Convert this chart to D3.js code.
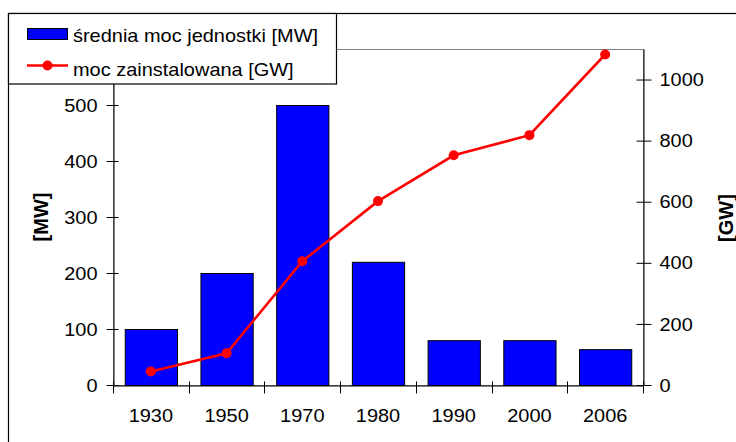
<!DOCTYPE html>
<meta charset="utf-8">
<html lang="pl">
  <head>
    <script src="https://cdn.jsdelivr.net/npm/d3@7"></script>
    <style>
      body { margin: 0; background: #fff; }
      text { font-family: "Liberation Sans", Arial, sans-serif; fill: #000; }
    </style>
  </head>
  <body>
    <svg id="chart" width="736" height="442"></svg>
  <script>
    // dane
    const years = ['1930', '1950', '1970', '1980', '1990', '2000', '2006']
    const unitPower = [100, 200, 500, 220, 80, 80, 64]           // [MW]
    const installed = [44, 104, 405, 602, 752, 818, 1082]        // [GW]
    const leftTicks = [0, 100, 200, 300, 400, 500]
    const rightTicks = [0, 200, 400, 600, 800, 1000]

    const svg = d3.select('#chart')
    const plot = {left: 113, right: 643, top: 49, bottom: 385}
    const fs = '19px'

    // ramka całego wykresu
    svg.append('rect')
      .attr('x', 8.5).attr('y', 13.5).attr('width', 900).attr('height', 600)
      .attr('fill', 'none').attr('stroke', '#000').attr('stroke-width', 1.2)

    const x = d3.scaleBand().domain(years)
      .range([plot.left, plot.right]).paddingInner(0.31).paddingOuter(0.155)
    const yL = d3.scaleLinear().domain([0, 600]).range([plot.bottom, plot.top])
    const yR = d3.scaleLinear().domain([0, 1100]).range([plot.bottom, plot.top])

    // obszar kreślenia - szara ramka
    svg.append('rect')
      .attr('x', plot.left + 0.5).attr('y', plot.top + 0.5)
      .attr('width', plot.right - plot.left).attr('height', plot.bottom - plot.top)
      .attr('fill', 'none').attr('stroke', '#808080').attr('stroke-width', 1)

    // słupki
    svg.append('g').selectAll('rect').data(unitPower).enter()
      .append('rect')
      .attr('x', (d, i) => x(years[i]) + 0.5)
      .attr('y', d => yL(d) + 0.5)
      .attr('width', x.bandwidth())
      .attr('height', d => yL(0) - yL(d))
      .attr('fill', '#0000ff').attr('stroke', '#000').attr('stroke-width', 1)

    // osie
    const gl = svg.append('g').attr('transform', `translate(${plot.left + 0.5},0)`)
      .call(d3.axisLeft(yL).tickValues(leftTicks).tickSizeInner(7).tickSizeOuter(0).tickPadding(9))
    gl.selectAll('.tick line').attr('x1', 5)
    gl.selectAll('text').style('font-size', fs)

    const gr = svg.append('g').attr('transform', `translate(${plot.right + 0.5},0)`)
      .call(d3.axisRight(yR).tickValues(rightTicks).tickFormat(d3.format('d'))
        .tickSizeInner(8).tickSizeOuter(0).tickPadding(8))
    gr.selectAll('.tick line').attr('x1', -7)
    gr.selectAll('text').style('font-size', fs)

    const gb = svg.append('g').attr('transform', `translate(0,${plot.bottom + 0.5})`)
      .call(d3.axisBottom(x).tickSize(0).tickPadding(23))
    gb.selectAll('text').style('font-size', fs)
    // znaczniki na granicach kategorii
    const edges = years.map(d => x(d) - x.step() * x.paddingInner() / 2)
    edges.push(plot.right)
    gb.selectAll('.edge').data(edges).enter().append('line')
      .attr('x1', d => Math.round(d) + 0.5).attr('x2', d => Math.round(d) + 0.5)
      .attr('y1', -4).attr('y2', 8).attr('stroke', '#000')

    // linia mocy zainstalowanej
    const line = d3.line()
      .x((d, i) => x(years[i]) + x.bandwidth() / 2)
      .y(d => yR(d))
    svg.append('path').datum(installed)
      .attr('d', line).attr('fill', 'none')
      .attr('stroke', '#ff0000').attr('stroke-width', 2.6)
    svg.append('g').selectAll('circle').data(installed).enter()
      .append('circle')
      .attr('cx', (d, i) => x(years[i]) + x.bandwidth() / 2)
      .attr('cy', d => yR(d)).attr('r', 5).attr('fill', '#ff0000')

    // tytuły osi
    svg.append('text')
      .attr('transform', 'translate(48,217) rotate(-90)')
      .attr('text-anchor', 'middle').style('font-size', '20px').style('font-weight', 'bold')
      .text('[MW]')
    svg.append('text')
      .attr('transform', 'translate(733,218) rotate(-90)')
      .attr('text-anchor', 'middle').style('font-size', '20px').style('font-weight', 'bold')
      .text('[GW]')

    // legenda
    const lg = svg.append('g')
    lg.append('rect')
      .attr('x', 8.5).attr('y', 13.5).attr('width', 328).attr('height', 70.5)
      .attr('fill', '#fff').attr('stroke', '#000').attr('stroke-width', 1.2)
    lg.append('rect')
      .attr('x', 27.5).attr('y', 28.5).attr('width', 40).attr('height', 11)
      .attr('fill', '#0000ff').attr('stroke', '#000')
    lg.append('text').attr('x', 73).attr('y', 42).style('font-size', fs)
      .text('średnia moc jednostki [MW]')
    lg.append('line')
      .attr('x1', 27).attr('x2', 68).attr('y1', 65.5).attr('y2', 65.5)
      .attr('stroke', '#ff0000').attr('stroke-width', 2.6)
    lg.append('circle').attr('cx', 47.5).attr('cy', 65.5).attr('r', 5).attr('fill', '#ff0000')
    lg.append('text').attr('x', 73).attr('y', 76).style('font-size', fs)
      .text('moc zainstalowana [GW]')

    // tekst w oryginale jest nieco rozciągnięty w poziomie
    svg.selectAll('text').filter(function() { return this.style.fontWeight !== 'bold' })
      .each(function() {
        const w = this.getComputedTextLength()
        d3.select(this).attr('textLength', w * 1.05).attr('lengthAdjust', 'spacingAndGlyphs')
      })
  </script>
  </body>
</html>
